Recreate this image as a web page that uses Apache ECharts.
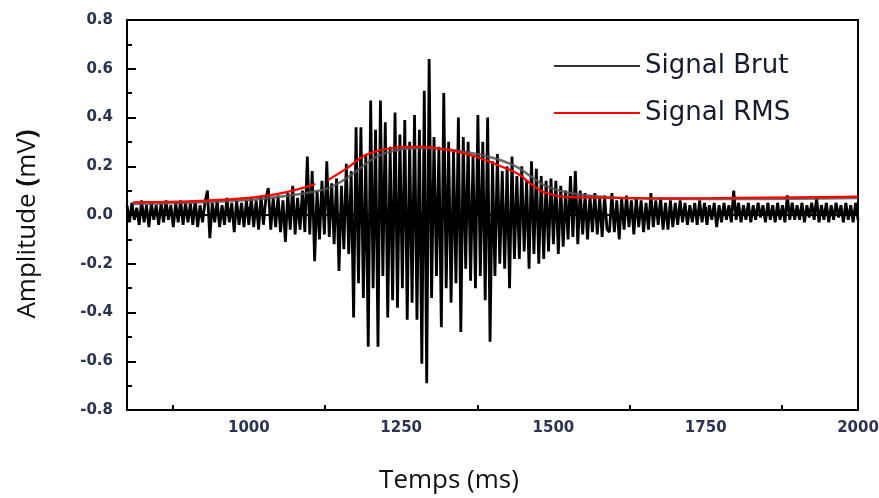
<!DOCTYPE html>
<html>
<head>
<meta charset="utf-8">
<script src="https://cdn.jsdelivr.net/npm/echarts@6/dist/echarts.min.js"></script>
<style>html,body{margin:0;padding:0;background:#fff;}#chart{width:879px;height:498px;}</style>
</head>
<body>
<div id="chart"></div>
<script>
// Raw EMG signal, sampled every 4 ms from 800 ms to 2000 ms (values in mV)
const rawStart = 800;
const rawStep = 4;
const rawSignal = [
  0.04,-0.03,0.05,-0.02,0.03,-0.04,0.06,-0.03,0.04,-0.05,0.05,-0.02,0.04,-0.04,0.05,-0.03,0.06,-0.02,0.04,-0.05,0.05,-0.03,0.06,-0.04,0.05,
  -0.03,0.05,-0.04,0.06,-0.05,0.04,-0.03,0.05,0.10,-0.095,0.05,-0.03,0.06,-0.05,0.04,-0.04,0.07,-0.03,0.05,-0.07,0.06,-0.04,0.05,-0.05,0.06,
  -0.04,0.07,-0.05,0.06,-0.06,0.08,-0.04,0.07,0.11,-0.06,0.07,-0.05,0.08,-0.07,0.06,-0.11,0.09,-0.06,0.12,-0.08,0.07,-0.06,0.10,-0.07,0.24,
  -0.08,0.18,-0.19,0.10,-0.10,0.14,-0.08,0.22,-0.09,0.13,-0.12,0.15,-0.23,0.12,-0.14,0.21,-0.16,0.18,-0.42,0.36,-0.28,0.36,-0.34,0.25,-0.54,
  0.47,-0.30,0.35,-0.54,0.47,-0.25,0.38,-0.42,0.28,-0.35,0.42,-0.38,0.33,-0.30,0.39,-0.43,0.30,-0.36,0.41,-0.43,0.35,-0.61,0.51,-0.69,0.64,
  -0.34,0.32,-0.25,0.28,-0.46,0.50,-0.30,0.30,-0.36,0.26,-0.28,0.40,-0.48,0.32,-0.22,0.30,-0.27,0.24,-0.30,0.41,-0.25,0.30,-0.35,0.40,-0.52,
  0.22,-0.25,0.25,-0.20,0.18,-0.22,0.20,-0.30,0.24,-0.18,0.16,-0.18,0.20,-0.15,0.14,-0.22,0.22,-0.16,0.19,-0.20,0.16,-0.18,0.14,-0.15,0.15,
  -0.12,0.14,-0.16,0.12,-0.13,0.10,-0.10,0.16,-0.09,0.18,-0.12,0.10,-0.08,0.09,-0.10,0.08,-0.07,0.09,-0.08,0.07,-0.09,0.08,-0.06,-0.07,0.09,
  -0.07,0.06,-0.10,0.07,-0.06,0.08,-0.05,0.06,-0.08,0.07,-0.05,0.06,-0.07,0.05,-0.06,0.09,-0.05,0.06,-0.04,0.07,-0.06,0.05,-0.06,0.06,-0.05,
  0.05,-0.04,0.06,-0.03,0.05,-0.04,0.04,-0.03,0.05,-0.04,0.06,-0.03,0.05,-0.04,0.04,-0.02,0.05,-0.05,0.04,-0.03,0.05,-0.02,0.04,-0.03,0.10,
  -0.02,0.05,-0.03,0.04,-0.02,0.05,-0.03,0.04,-0.02,0.05,-0.01,0.04,-0.03,0.05,-0.02,0.04,-0.03,0.05,-0.02,0.04,-0.03,0.08,-0.02,0.05,-0.02,
  0.04,-0.02,0.05,-0.03,0.04,-0.01,0.05,-0.02,0.07,-0.03,0.04,-0.02,0.05,-0.03,0.04,-0.02,0.05,-0.01,0.04,-0.03,0.05,-0.02,0.04,-0.03,0.05,-0.02
];

// RMS envelope (red), with the small gap seen in the picture
const rmsTime  = [810,850,900,950,1000,1050,1080,1109,1118,1130,1160,1187,1210,1237,1260,1281,1300,1325,1352,1375,1396,1413,1429,1445,1462,1483,1500,1516,1540,1600,1700,1800,1900,2000];
const rmsValue = [0.052,0.053,0.056,0.062,0.070,0.088,0.105,0.127,null,0.143,0.19,0.24,0.262,0.275,0.28,0.28,0.277,0.268,0.254,0.238,0.218,0.2,0.185,0.164,0.13,0.095,0.082,0.075,0.073,0.07,0.068,0.07,0.072,0.075];

// Grey smoothed envelope under the red line
const envTime  = [810,900,1000,1050,1100,1130,1160,1187,1210,1240,1280,1320,1347,1400,1429,1445,1462,1483,1510,1540,1580,1650,1800,2000];
const envValue = [0.045,0.05,0.062,0.075,0.092,0.11,0.15,0.2,0.24,0.265,0.275,0.27,0.262,0.235,0.21,0.19,0.16,0.125,0.1,0.085,0.075,0.068,0.066,0.07];

// Axis ticks
const xMajorTicks = [1000,1250,1500,1750,2000];
const xMinorTicks = [875,1125,1375,1625,1875];
const seriesNames = ['Signal Brut','Signal RMS'];

const rawData = rawSignal.map((v,i) => [rawStart + i*rawStep, v]);
const rmsData = rmsTime.map((t,i) => [t, rmsValue[i]]);
const envData = envTime.map((t,i) => [t, envValue[i]]);

const chart = echarts.init(document.getElementById('chart'), null, {renderer:'canvas'});
const tickFont = {fontFamily:'DejaVu Sans', fontSize:15, fontWeight:'bold', color:'#2a3350'};
chart.setOption({
  animation:false,
  backgroundColor:'#fff',
  grid:{left:127, right:21, top:20, bottom:88, containLabel:false, outerBoundsMode:'none',
        show:true, borderColor:'#000', borderWidth:2, backgroundColor:'transparent'},
  legend:{
    show:true, orient:'vertical', left:549, top:46, itemWidth:86, itemHeight:2, itemGap:17, icon:'rect',
    textStyle:{fontFamily:'DejaVu Sans', fontSize:26, color:'#161b2e', lineHeight:30},
    data:[
      {name:seriesNames[0], icon:'rect', itemStyle:{color:'#333', borderWidth:0}},
      {name:seriesNames[1], icon:'rect', itemStyle:{color:'#ff0000', borderWidth:0}}
    ]
  },
  xAxis:[{
    type:'value', min:800, max:2000, position:'bottom',
    axisLine:{show:true, lineStyle:{color:'#000', width:2}},
    axisTick:{show:true, inside:true, length:8, customValues:xMajorTicks, lineStyle:{color:'#000', width:2}},
    axisLabel:{show:true, margin:11, customValues:xMajorTicks, formatter:v => String(v), ...tickFont},
    splitLine:{show:false}
  },{
    type:'value', min:800, max:2000, position:'bottom', gridIndex:0,
    axisLine:{show:false},
    axisTick:{show:true, inside:true, length:5, customValues:xMinorTicks, lineStyle:{color:'#000', width:2}},
    axisLabel:{show:false},
    splitLine:{show:false}
  }],
  yAxis:{
    type:'value', min:-0.8, max:0.8, interval:0.2,
    axisLine:{show:true, lineStyle:{color:'#000', width:2}},
    axisTick:{show:true, inside:true, length:9, lineStyle:{color:'#000', width:2}},
    minorTick:{show:true, splitNumber:2, length:5, lineStyle:{color:'#000', width:2}},
    axisLabel:{margin:14, formatter:v => v.toFixed(1), ...tickFont},
    splitLine:{show:false}
  },
  graphic:[
    {type:'text', x:449, y:481, style:{text:'Temps (ms)', fontFamily:'Open Sans', fontSize:26, fill:'#111', textAlign:'center', textVerticalAlign:'middle'}},
    {type:'text', x:28, y:224, rotation:Math.PI/2,
     style:{text:'Amplitude {b|(}mV{b|)}', fontFamily:'Open Sans', fontSize:26, fill:'#111', textAlign:'center', textVerticalAlign:'middle',
            rich:{b:{fontFamily:'Open Sans', fontSize:26, fontWeight:'bold', fill:'#111'}}}}
  ],
  series:[
    {name:seriesNames[0], type:'line', xAxisIndex:0, data:rawData, showSymbol:false, symbol:'none',
     lineStyle:{color:'#000', width:2.8}, itemStyle:{color:'#333'}, z:2},
    {name:'envelope', type:'line', xAxisIndex:0, data:envData, showSymbol:false, symbol:'none', smooth:0.4,
     lineStyle:{color:'#555', width:2.5, opacity:0.85}, z:3, silent:true},
    {name:seriesNames[1], type:'line', xAxisIndex:0, data:rmsData, showSymbol:false, symbol:'none', smooth:0.3, connectNulls:false,
     lineStyle:{color:'#ff0000', width:2.2}, itemStyle:{color:'#ff0000'}, z:4}
  ]
});
</script>
</body>
</html>
